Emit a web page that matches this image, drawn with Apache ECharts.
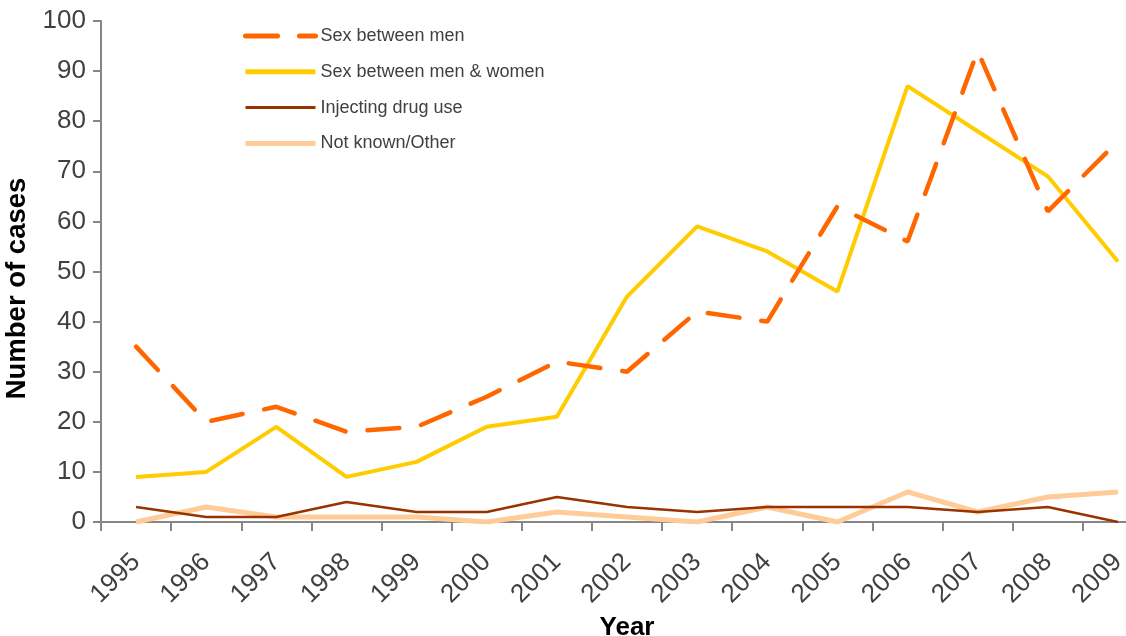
<!DOCTYPE html>
<html>
<head>
<meta charset="utf-8">
<script src="https://cdn.jsdelivr.net/npm/echarts@6/dist/echarts.min.js"></script>
<style>
html,body{margin:0;padding:0;background:#fff;}
#main{width:1126px;height:636px;}
</style>
</head>
<body>
<div id="main"></div>
<script>
const years = ['1995','1996','1997','1998','1999','2000','2001','2002','2003','2004','2005','2006','2007','2008','2009'];
const sexBetweenMen = [35, 20, 23, 18, 19, 25, 32, 30, 42, 40, 63, 56, 94, 62, 76];
const sexMenWomen = [9, 10, 19, 9, 12, 19, 21, 45, 59, 54, 46, 87, 78, 69, 52];
const injectingDrugUse = [3, 1, 1, 4, 2, 2, 5, 3, 2, 3, 3, 3, 2, 3, 0];
const notKnownOther = [0, 3, 1, 1, 1, 0, 2, 1, 0, 3, 0, 6, 2, 5, 6];
const seriesNames = ['Sex between men', 'Sex between men & women', 'Injecting drug use', 'Not known/Other'];
const legendWidths = [5, 5, 3, 5];

const chart = echarts.init(document.getElementById('main'), null, {renderer: 'canvas'});
const font = 'Liberation Sans, Arial, sans-serif';
chart.setOption({
  animation: false,
  backgroundColor: '#ffffff',
  textStyle: {fontFamily: font},
  grid: {left: 101, top: 21, width: 1052, height: 501, outerBoundsMode: 'none', containLabel: false},
  legend: {
    orient: 'vertical',
    left: 243,
    top: 27,
    padding: 0,
    itemWidth: 70,
    itemHeight: 18,
    itemGap: 17.8,
    itemStyle: {opacity: 0},
    textStyle: {fontFamily: font, fontSize: 18, color: '#404040', padding: [0,0,0,0]},
    data: seriesNames.map((n, i) => ({name: n, lineStyle: {width: legendWidths[i]}}))
  },
  xAxis: {
    type: 'category',
    data: years,
    boundaryGap: true,
    name: 'Year',
    nameLocation: 'middle',
    nameGap: 92,
    nameTextStyle: {fontFamily: font, fontSize: 26, fontWeight: 'bold', color: '#000'},
    axisLine: {lineStyle: {color: '#868686', width: 2}},
    axisTick: {show: true, length: 9, lineStyle: {color: '#868686', width: 2}},
    axisLabel: {rotate: 45, fontSize: 26, color: '#404040', margin: 36, fontFamily: font},
    splitLine: {show: false}
  },
  yAxis: {
    type: 'value',
    min: 0, max: 100, interval: 10,
    name: 'Number of cases',
    nameLocation: 'middle',
    nameGap: 61,
    nameTextStyle: {fontFamily: font, fontSize: 27.5, fontWeight: 'bold', color: '#000', padding: [0, 34, 0, 0]},
    axisLine: {show: true, lineStyle: {color: '#868686', width: 2}},
    axisTick: {show: true, length: 8, lineStyle: {color: '#868686', width: 2}},
    axisLabel: {fontSize: 26, color: '#404040', margin: 15, fontFamily: font},
    splitLine: {show: false}
  },
  series: [
    {name: seriesNames[0], type: 'line', data: sexBetweenMen, symbol: 'none', z: 4,
     lineStyle: {color: '#FF6600', width: 4.5, type: [32, 22], cap: 'round'}, itemStyle: {color: '#FF6600'}},
    {name: seriesNames[1], type: 'line', data: sexMenWomen, symbol: 'none', z: 3,
     lineStyle: {color: '#FFCC00', width: 4}, itemStyle: {color: '#FFCC00'}},
    {name: seriesNames[2], type: 'line', data: injectingDrugUse, symbol: 'none', z: 2,
     lineStyle: {color: '#993300', width: 2.5}, itemStyle: {color: '#993300'}},
    {name: seriesNames[3], type: 'line', data: notKnownOther, symbol: 'none', z: 1,
     lineStyle: {color: '#FFCC99', width: 5}, itemStyle: {color: '#FFCC99'}}
  ]
});
</script>
</body>
</html>
